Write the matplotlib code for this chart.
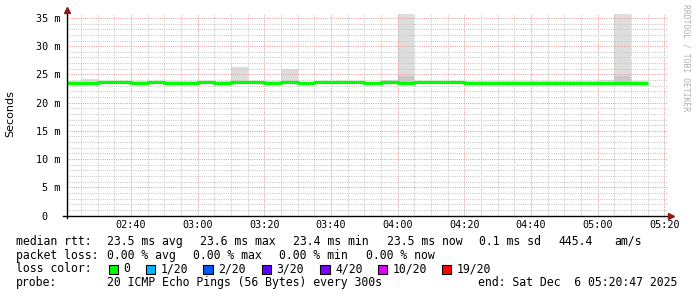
import datetime as dt
import matplotlib
matplotlib.use("Agg")
import matplotlib.pyplot as plt
import matplotlib.dates as mdates
from matplotlib.patches import Rectangle
import pandas as pd

# ---------------- data ----------------
start_time = "2025-12-06 02:20"
step_minutes = 5
median_ms = [23.4, 23.4, 23.6, 23.6, 23.4, 23.6, 23.5, 23.4, 23.6, 23.5,
             23.6, 23.6, 23.4, 23.6, 23.4, 23.6, 23.6, 23.6, 23.4, 23.6,
             23.4, 23.6, 23.6, 23.6, 23.5, 23.5, 23.5, 23.5, 23.5, 23.5,
             23.5, 23.5, 23.5, 23.5, 23.5]
smoke_hi = [23.8, 24.1, 23.8, 23.8, 23.9, 23.8, 23.8, 23.8, 23.8, 23.8,
            26.3, 23.8, 23.8, 25.9, 23.7, 23.8, 23.8, 23.8, 23.7, 24.0,
            40.0, 23.8, 23.8, 23.8, 23.8, 23.8, 23.8, 23.9, 23.8, 23.9,
            23.8, 23.8, 24.0, 40.0, 23.8]
smoke_lo = [23.2, 23.2, 23.3, 23.3, 23.2, 23.3, 23.3, 23.2, 23.3, 23.3,
            23.3, 23.3, 23.2, 23.3, 23.2, 23.3, 23.3, 23.3, 23.2, 23.3,
            23.2, 23.3, 23.3, 23.3, 23.3, 23.3, 23.3, 23.3, 23.3, 23.3,
            23.3, 23.3, 23.3, 23.2, 23.3]
smoke_mid_hi = [None] * 20 + [24.8] + [None] * 12 + [24.8, None]

y_ticks = [0, 5, 10, 15, 20, 25, 30, 35]
y_tick_labels = ["0  ", "5 m", "10 m", "15 m", "20 m", "25 m", "30 m", "35 m"]
y_max = 35.7
x_start = "2025-12-06 02:20:47"
x_end = "2025-12-06 05:20:47"

stats_rtt = ["median rtt:", "23.5 ms avg", "23.6 ms max", "23.4 ms min",
             "23.5 ms now", "0.1 ms sd", "445.4", "am/s"]
stats_loss = ["packet loss:", "0.00 % avg", "0.00 % max", "0.00 % min", "0.00 % now"]
loss_labels = ["0", "1/20", "2/20", "3/20", "4/20", "10/20", "19/20"]
loss_colors = ["#00ff00", "#00b8ff", "#0059ff", "#5e00ff", "#7e00ff", "#dd00ff", "#ff0000"]
probe_text = "20 ICMP Echo Pings (56 Bytes) every 300s"
end_text = "end: Sat Dec  6 05:20:47 2025"

# ---------------- figure ----------------
W, H = 697, 297
fig = plt.figure(figsize=(W / 100, H / 100), dpi=100)
fig.patch.set_facecolor("white")

def fx(x):
    return x / W

def fy(y):
    return 1 - y / H

ax_l, ax_r, ax_t, ax_b = 67, 667, 14, 215.5
ax = fig.add_axes([fx(ax_l), fy(ax_b), (ax_r - ax_l) / W, (ax_b - ax_t) / H])
ax.set_facecolor("white")

times = pd.date_range(start_time, periods=len(median_ms), freq=f"{step_minutes}min")
tnum = mdates.date2num(times.to_pydatetime())
wnum = step_minutes / (24 * 60)

# smoke
ax.bar(tnum, [h - l for h, l in zip(smoke_hi, smoke_lo)], bottom=smoke_lo,
       width=wnum, align="edge", color="#dddddd", linewidth=0, zorder=1)
for t, lo, mh in zip(tnum, smoke_lo, smoke_mid_hi):
    if mh is not None:
        ax.bar([t], [mh - lo], bottom=[lo], width=wnum, align="edge",
               color="#c8c8c8", linewidth=0, zorder=1.1)

# median line
xs = list(tnum) + [tnum[-1] + wnum]
ys = list(median_ms) + [median_ms[-1]]
ax.step(xs, ys, where="post", color="#00ff00", linewidth=2.3, zorder=3,
        solid_capstyle="butt")

ax.set_xlim(mdates.date2num(pd.Timestamp(x_start)), mdates.date2num(pd.Timestamp(x_end)))
ax.set_ylim(0, y_max)

ax.xaxis.set_major_locator(mdates.MinuteLocator(byminute=[0, 20, 40]))
ax.xaxis.set_minor_locator(mdates.MinuteLocator(byminute=range(0, 60, 5)))
ax.xaxis.set_major_formatter(mdates.DateFormatter("%H:%M"))
ax.set_yticks(y_ticks)
ax.set_yticklabels(y_tick_labels)
ax.set_yticks([v for v in range(0, 36)], minor=True)

ax.grid(which="minor", color="#c6c6c6", linestyle=(0, (1, 1.2)), linewidth=0.72,
        zorder=2)
ax.grid(which="major", color="#e49c9c", linestyle=(0, (1, 1.2)), linewidth=0.72,
        zorder=2.1)
ax.set_axisbelow(False)

for s in ax.spines.values():
    s.set_visible(False)
ax.tick_params(which="both", length=0)
ax.tick_params(axis="x", pad=3.5, labelsize=7.3, labelcolor="black")
ax.tick_params(axis="y", pad=5, labelsize=7.3, labelcolor="black")
for lab in ax.get_xticklabels() + ax.get_yticklabels():
    lab.set_fontfamily("DejaVu Sans Mono")

# axis lines and arrows
ax.plot([-0.006, 1.004], [0, 0], transform=ax.transAxes, color="black",
        linewidth=1.0, clip_on=False, zorder=4)
ax.plot([0, 0], [-0.012, 1.02], transform=ax.transAxes, color="black",
        linewidth=1.0, clip_on=False, zorder=4)
ax.plot([1.007], [0], transform=ax.transAxes, marker=">", markersize=4.2,
        color="#8b1a1a", clip_on=False, zorder=5)
ax.plot([0], [1.022], transform=ax.transAxes, marker="^", markersize=4.2,
        color="#8b1a1a", clip_on=False, zorder=5)

# y label
fig.text(fx(10), fy(114), "Seconds", rotation=90, ha="center", va="center",
         fontsize=8, family="DejaVu Sans")

# watermark
fig.text(fx(686), fy(58), "RRDTOOL / TOBI OETIKER", rotation=270, ha="center",
         va="center", fontsize=5.8, family="DejaVu Sans Mono", color="#b0b0b0")

# legend text
mono = dict(family="DejaVu Sans Mono", fontsize=8.3, va="center", ha="left")
rtt_x = [16, 107.3, 200, 293.3, 386.7, 479, 558.3, 614]
for x, s in zip(rtt_x, stats_rtt):
    fig.text(fx(x), fy(241.5), s, **mono)
loss_x = [16, 107.3, 193.3, 279.3, 365.7]
for x, s in zip(loss_x, stats_loss):
    fig.text(fx(x), fy(255.3), s, **mono)
fig.text(fx(16), fy(269), "loss color:", **mono)
sq_x = [108.7, 145.7, 203.3, 261.7, 320, 377.7, 441.7]
for x, lab, c in zip(sq_x, loss_labels, loss_colors):
    fig.patches.append(Rectangle((fx(x), fy(274)), 9.5 / W, 9.5 / H,
                                 transform=fig.transFigure, facecolor=c,
                                 edgecolor="black", linewidth=0.8))
    fig.text(fx(x + 15), fy(269), lab, **mono)
fig.text(fx(16), fy(282.8), "probe:", **mono)
fig.text(fx(107.3), fy(282.8), probe_text, **mono)
fig.text(fx(478.3), fy(282.8), end_text, **mono)

fig.savefig("out.png", dpi=100, facecolor="white")
